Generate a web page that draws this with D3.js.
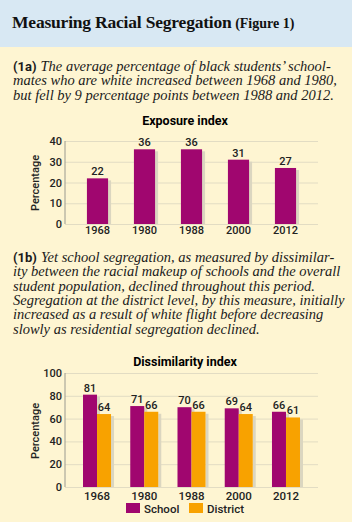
<!DOCTYPE html>
<html>
<head>
<meta charset="utf-8">
<script src="https://cdn.jsdelivr.net/npm/d3@7"></script>
<style>
    body { margin: 0; background: #fef5d2; }
    svg { display: block; }
    .sans { font-family: Roboto, "Open Sans", sans-serif; }
    .serif { font-family: "Liberation Serif", serif; }
    .grid line { stroke: #e2dcc3; stroke-width: 1; }
    .tick text { font-family: Roboto, sans-serif; font-size: 11px; font-weight: 500; fill: #222; }
</style>
</head>
<body>
<script>
const years = ['1968', '1980', '1988', '2000', '2012']
const exposure = [22, 36, 36, 31, 27]
const school = [81, 71, 70, 69, 66]
const district = [64, 66, 66, 64, 61]
const series = ['School', 'District']

const textA = [
    "The average percentage of black students’ school-",
    "mates who are white increased between 1968 and 1980,",
    "but fell by 9 percentage points between 1988 and 2012."
]
const textB = [
    "Yet school segregation, as measured by dissimilar-",
    "ity between the racial makeup of schools and the overall",
    "student population, declined throughout this period.",
    "Segregation at the district level, by this measure, initially",
    "increased as a result of white flight before decreasing",
    "slowly as residential segregation declined."
]

const colors = { School: '#a0066f', District: '#f8a200' }
const shadow = '#dbd6c0'

const svg = d3.select('body').append('svg')
    .attr('width', 352)
    .attr('height', 522)

svg.append('rect').attr('width', 352).attr('height', 522).attr('fill', '#fef5d2')
svg.append('rect').attr('width', 352).attr('height', 47).attr('fill', '#d8e8f3')

const title = svg.append('text').attr('class', 'serif')
    .attr('x', 12).attr('y', 28)
    .attr('fill', '#111')
title.append('tspan').text('Measuring Racial Segregation')
    .attr('font-size', 17.5).attr('font-weight', 'bold').attr('letter-spacing', -0.2)
title.append('tspan').text(' (Figure 1)')
    .attr('font-size', 14).attr('font-weight', 'bold')

function paragraph(label, lines, y0) {
    const g = svg.append('g')
    const lab = g.append('text').attr('class', 'sans')
        .attr('x', 13).attr('y', y0)
        .attr('font-size', 13).attr('font-weight', 'bold').attr('fill', '#1a1a1a')
        .text(label)
    const labW = lab.node().getComputedTextLength()
    lines.forEach((line, i) => {
        g.append('text').attr('class', 'serif')
            .attr('x', i === 0 ? 13 + labW + 4 : 13)
            .attr('y', y0 + i * 14.3)
            .attr('font-size', 14.5).attr('font-style', 'italic').attr('fill', '#1a1a1a')
            .text(line)
    })
}

paragraph('(1a)', textA, 71)
paragraph('(1b)', textB, 262)

function chartFrame(titleText, titleY, y, ticks, axisLabelY) {
    svg.append('text').attr('class', 'sans')
        .attr('x', 185).attr('y', titleY)
        .attr('text-anchor', 'middle')
        .attr('font-size', 12.5).attr('font-weight', 'bold')
        .text(titleText)

    svg.append('g').attr('class', 'grid')
        .attr('transform', 'translate(65,0)')
        .call(d3.axisLeft(y).tickValues(ticks).tickSize(-253).tickPadding(3))
        .call(g => g.select('.domain').remove())
        .call(g => g.selectAll('.tick line').filter(d => d === 0).attr('stroke', '#9a9a90'))

    svg.append('line')
        .attr('x1', 65).attr('x2', 65)
        .attr('y1', y.range()[1]).attr('y2', y.range()[0])
        .attr('stroke', '#9a9a90')

    svg.append('text').attr('class', 'sans')
        .attr('transform', `translate(39,${axisLabelY}) rotate(-90)`)
        .attr('text-anchor', 'middle')
        .attr('font-size', 11).attr('font-weight', 500).attr('fill', '#222')
        .text('Percentage')
}

// Chart 1a: exposure index
const y1 = d3.scaleLinear().domain([0, 40]).range([224, 141])
const x1 = d3.scaleBand().domain(years).range([74, 309]).paddingInner(0.55).paddingOuter(0.275)

chartFrame('Exposure index', 125, y1, [0, 10, 20, 30, 40], 183)

const bars1 = svg.append('g').selectAll('g').data(years).join('g')
bars1.append('rect')
    .attr('x', d => x1(d) + x1.bandwidth())
    .attr('y', (d, i) => y1(exposure[i]) + 2)
    .attr('width', 3)
    .attr('height', (d, i) => y1(0) - y1(exposure[i]) - 2)
    .attr('fill', shadow)
bars1.append('rect')
    .attr('x', d => x1(d))
    .attr('y', (d, i) => y1(exposure[i]))
    .attr('width', x1.bandwidth())
    .attr('height', (d, i) => y1(0) - y1(exposure[i]))
    .attr('fill', colors.School)
bars1.append('text').attr('class', 'sans')
    .attr('x', d => x1(d) + x1.bandwidth() / 2)
    .attr('y', (d, i) => y1(exposure[i]) - 3)
    .attr('text-anchor', 'middle')
    .attr('font-size', 11).attr('font-weight', 500).attr('fill', '#222')
    .text((d, i) => exposure[i])
bars1.append('text').attr('class', 'sans')
    .attr('x', d => x1(d) + x1.bandwidth() / 2)
    .attr('y', 234)
    .attr('text-anchor', 'middle')
    .attr('font-size', 11).attr('font-weight', 500).attr('fill', '#222')
    .text(d => d)

// Chart 1b: dissimilarity index
const y2 = d3.scaleLinear().domain([0, 100]).range([487, 373])
const x2 = d3.scaleBand().domain(years).range([73.4, 309.6]).paddingInner(0.407).paddingOuter(0.2035)
const xs = d3.scaleBand().domain(series).range([0, x2.bandwidth()])

chartFrame('Dissimilarity index', 366, y2, [0, 20, 40, 60, 80, 100], 431)

const rows = years.map((yr, i) => ({ year: yr, values: [
    { key: 'School', value: school[i] },
    { key: 'District', value: district[i] }
] }))

const groups = svg.append('g').selectAll('g').data(rows).join('g')
    .attr('transform', d => `translate(${x2(d.year)},0)`)

groups.selectAll('rect.shadow').data(d => d.values).join('rect')
    .attr('class', 'shadow')
    .attr('x', d => xs(d.key) + xs.bandwidth())
    .attr('y', d => y2(d.value) + 2)
    .attr('width', 3)
    .attr('height', d => y2(0) - y2(d.value) - 2)
    .attr('fill', shadow)
groups.selectAll('rect.bar').data(d => d.values).join('rect')
    .attr('class', 'bar')
    .attr('x', d => xs(d.key))
    .attr('y', d => y2(d.value))
    .attr('width', xs.bandwidth())
    .attr('height', d => y2(0) - y2(d.value))
    .attr('fill', d => colors[d.key])
groups.selectAll('text.val').data(d => d.values).join('text')
    .attr('class', 'val sans')
    .attr('x', d => xs(d.key) + xs.bandwidth() / 2)
    .attr('y', d => y2(d.value) - 3)
    .attr('text-anchor', 'middle')
    .attr('font-size', 11).attr('font-weight', 500).attr('fill', '#222')
    .text(d => d.value)
groups.append('text').attr('class', 'sans')
    .attr('x', x2.bandwidth() / 2)
    .attr('y', 500)
    .attr('text-anchor', 'middle')
    .attr('font-size', 11.5).attr('font-weight', 500).attr('fill', '#222')
    .text(d => d.year)

const legend = svg.append('g').selectAll('g').data(series).join('g')
    .attr('transform', (d, i) => `translate(${126 + i * 63},503)`)
legend.append('rect').attr('width', 14).attr('height', 10).attr('fill', d => colors[d])
legend.append('text').attr('class', 'sans')
    .attr('x', 18).attr('y', 9.5)
    .attr('font-size', 11.5).attr('font-weight', 500).attr('fill', '#222')
    .text(d => d)
</script>
</body>
</html>
